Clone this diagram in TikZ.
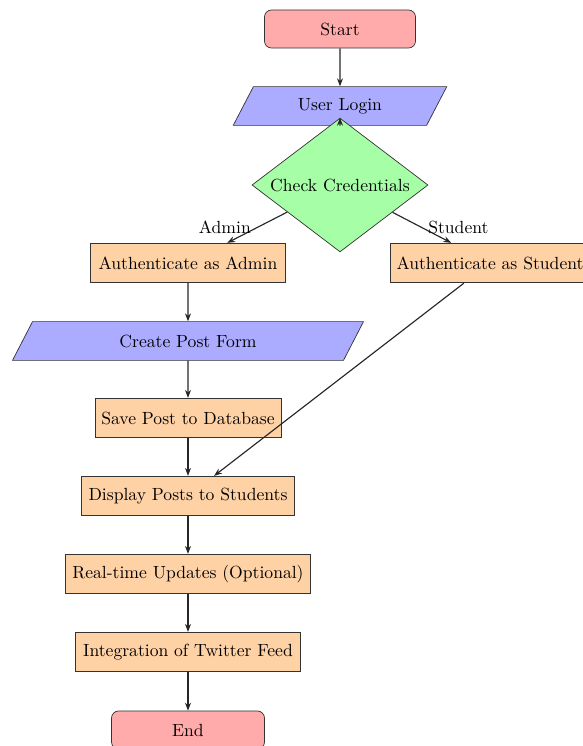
\documentclass[tikz,border=0pt]{standalone}
\usetikzlibrary{shapes.geometric,arrows.meta}
\begin{document}
\begin{tikzpicture}[x=0.568pt,y=-0.568pt,
  base/.style={draw=black!80,line width=0.4pt,inner sep=2pt,align=center},
  term/.style={base,rounded corners=4pt,fill=red!33,minimum width=85.8pt,minimum height=21.6pt},
  io/.style={base,trapezium,trapezium left angle=65,trapezium right angle=115,trapezium stretches=true,fill=blue!33,minimum height=22pt},
  proc/.style={base,rectangle,fill=orange!35,minimum height=22.5pt},
  decide/.style={base,diamond,aspect=1.5,inner sep=0pt,fill=green!35,minimum width=100pt,minimum height=76pt},
  arr/.style={-{Stealth[length=4.5pt,width=3.4pt]},line width=0.65pt,draw=black!85}]
\useasboundingbox (0,0) rectangle (583,746);
\clip (0,0) rectangle (583,746);
\node[term] (start) at (340,29) {Start};
\node[io,minimum width=122pt] (login) at (340,106) {User Login};
\node[decide] (check) at (340,185) {Check Credentials};
\node[proc,minimum width=110.8pt] (admin) at (188,263) {Authenticate as Admin};
\node[proc,minimum width=113pt] (student) at (490,263) {Authenticate as Student};
\node[io,minimum width=200pt] (form) at (188,341) {Create Post Form};
\node[proc,minimum width=105.6pt] (save) at (188,418) {Save Post to Database};
\node[proc,minimum width=121pt] (display) at (188,496) {Display Posts to Students};
\node[proc,minimum width=139.2pt] (rt) at (188,574) {Real-time Updates (Optional)};
\node[proc,minimum width=127.8pt] (tw) at (188,652) {Integration of Twitter Feed};
\node[term,minimum width=86.9pt] (end) at (188,730) {End};
\draw[arr] (start) -- (login);
\draw[arr] (login) -- (check);
\draw[arr] (check) -- node[midway,left] {Admin} (admin);
\draw[arr] (check) -- node[midway,right] {Student} (student);
\draw[arr] (admin) -- (form);
\draw[arr] (form) -- (save);
\draw[arr] (save) -- (display);
\draw[arr] (student) -- (display);
\draw[arr] (display) -- (rt);
\draw[arr] (rt) -- (tw);
\draw[arr] (tw) -- (end);
\end{tikzpicture}
\end{document}
